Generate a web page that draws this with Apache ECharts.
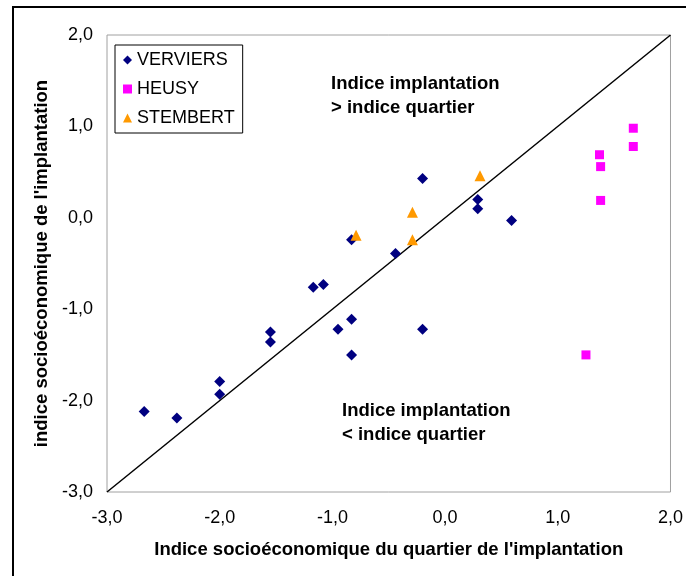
<!DOCTYPE html>
<html><head><meta charset="utf-8">
<script src="https://cdn.jsdelivr.net/npm/echarts@6/dist/echarts.min.js"></script>
<style>html,body{margin:0;padding:0;background:#fff}#c{width:686px;height:576px}</style>
</head><body><div id="c"></div>
<script>
const verviersX = [-2.67,-2.38,-2.0,-2.0,-1.55,-1.55,-1.17,-1.08,-0.95,-0.83,-0.83,-0.83,-0.44,-0.20,-0.20,0.29,0.29,0.59];
const verviersY = [-2.12,-2.19,-1.79,-1.93,-1.25,-1.36,-0.76,-0.73,-1.22,-1.11,-1.50,-0.24,-0.39,0.43,-1.22,0.20,0.10,-0.03];
const heusyX = [1.37,1.38,1.38,1.67,1.67,1.25];
const heusyY = [0.69,0.56,0.19,0.98,0.78,-1.50];
const stembertX = [-0.79,-0.29,-0.29,0.31];
const stembertY = [-0.19,0.06,-0.24,0.46];
const diagX = [-3, 2];
const diagY = [-3, 2];
const axisTicks = [-3,-2,-1,0,1,2];
const xName = "Indice socioéconomique du quartier de l'implantation";
const yName = "indice socioéconomique de l'implantation";
const noteAbove = ["Indice implantation", "> indice quartier"];
const noteBelow = ["Indice implantation", "< indice quartier"];

const zip = (a,b)=>a.map((v,i)=>[v,b[i]]);
const FF = '"Liberation Sans", Arial, sans-serif';
const fmt = v => v.toFixed(1).replace('.', ',');

const chart = echarts.init(document.getElementById('c'), null, {renderer:'canvas'});
chart.setOption({
  animation:false,
  backgroundColor:'#fff',
  textStyle:{fontFamily:FF},
  grid:{left:107,top:35,right:10,bottom:84,show:true,borderColor:'#a0a0a0',borderWidth:1,backgroundColor:'#fff'},
  xAxis:{type:'value',min:axisTicks[0],max:axisTicks[axisTicks.length-1],interval:1,
    axisLine:{show:false},axisTick:{show:false},splitLine:{show:false},
    axisLabel:{formatter:fmt,fontSize:18,color:'#000',margin:17,fontFamily:FF},
    name:xName,nameLocation:'middle',nameGap:48,
    nameTextStyle:{fontSize:18.5,fontWeight:'bold',color:'#000',fontFamily:FF}},
  yAxis:{type:'value',min:axisTicks[0],max:axisTicks[axisTicks.length-1],interval:1,
    axisLine:{show:false},axisTick:{show:false},splitLine:{show:false},
    axisLabel:{formatter:fmt,fontSize:18,color:'#000',margin:14,fontFamily:FF},
    name:yName,nameLocation:'middle',nameGap:49,
    nameTextStyle:{fontSize:18.5,fontWeight:'bold',color:'#000',fontFamily:FF}},
  legend:{orient:'vertical',left:115,top:45,padding:[6,8,6,8],itemGap:11,itemWidth:9,itemHeight:9,
    borderColor:'#000',borderWidth:1,backgroundColor:'#fff',
    textStyle:{fontSize:18,color:'#000',fontFamily:FF},
    data:[{name:'VERVIERS',icon:'diamond'},{name:'HEUSY',icon:'rect'},{name:'STEMBERT',icon:'triangle'}]},
  graphic:[
    {type:'rect',shape:{x:13,y:7,width:700,height:600},style:{fill:null,stroke:'#000',lineWidth:2},silent:true,z:100},
    {type:'text',left:331,top:72,style:{text:noteAbove.join('\n'),font:'bold 18.5px '+FF,fill:'#000',lineHeight:24}},
    {type:'text',left:342,top:399,style:{text:noteBelow.join('\n'),font:'bold 18.5px '+FF,fill:'#000',lineHeight:24}}
  ],
  series:[
    {type:'line',data:zip(diagX,diagY),symbol:'none',lineStyle:{color:'#000',width:1.5},silent:true,z:1},
    {name:'VERVIERS',type:'scatter',symbol:'diamond',symbolSize:11,itemStyle:{color:'#000080',opacity:1},data:zip(verviersX,verviersY),z:3},
    {name:'HEUSY',type:'scatter',symbol:'rect',symbolSize:9,itemStyle:{color:'#ff00ff',opacity:1},data:zip(heusyX,heusyY),z:3},
    {name:'STEMBERT',type:'scatter',symbol:'triangle',symbolSize:11,itemStyle:{color:'#ff9900',opacity:1},data:zip(stembertX,stembertY),z:4}
  ]
});
</script></body></html>
